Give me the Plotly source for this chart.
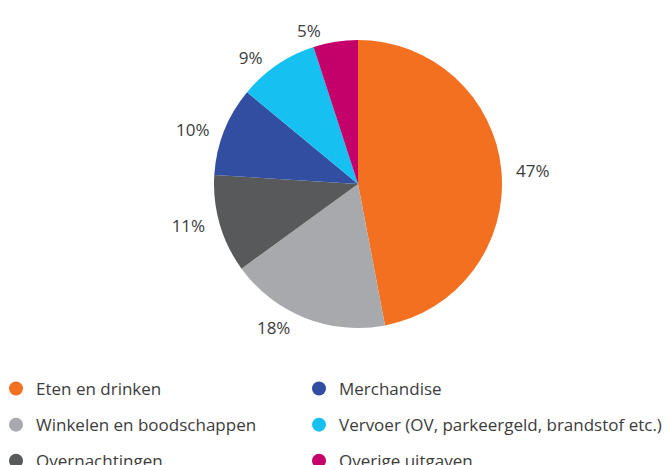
import plotly.graph_objects as go

categories = ["Eten en drinken", "Winkelen en boodschappen", "Overnachtingen",
              "Merchandise", "Vervoer (OV, parkeergeld, brandstof etc.)", "Overige uitgaven"]
values = [47, 18, 11, 10, 9, 5]
colors = ["#F37021", "#A7A9AC", "#58595B", "#324EA0", "#16C1F1", "#C4006A"]
legend_column = ["legend", "legend", "legend", "legend2", "legend2", "legend2"]

W, H = 670, 465
cx, cy, r = 358, 184, 144
pad = "\u00a0\u00a0"

fig = go.Figure()
fig.add_trace(go.Pie(
    labels=categories, values=values, sort=False, direction="clockwise", rotation=0,
    marker=dict(colors=colors, line=dict(width=0)),
    texttemplate=pad + "%{value}%" + pad, textposition="outside",
    textfont=dict(family="Open Sans", size=17, color="#3c3c3c"),
    showlegend=False, hoverinfo="label+value",
    domain=dict(x=[(cx - r) / W, (cx + r) / W], y=[1 - (cy + r) / H, 1 - (cy - r) / H]),
))

for i, (name, col) in enumerate(zip(categories, colors)):
    fig.add_trace(go.Scatter(
        x=[None], y=[None], mode="markers", name=name,
        marker=dict(symbol="circle", size=14, color=col),
        legend=legend_column[i], legendgroup=f"g{i}", showlegend=True,
    ))

legend_common = dict(
    orientation="v", yanchor="top", y=1 - 371 / H, tracegroupgap=11,
    font=dict(family="Open Sans", size=17, color="#3c3c3c"),
    bgcolor="rgba(0,0,0,0)", itemwidth=30,
)
fig.update_layout(
    width=W, height=H,
    margin=dict(l=0, r=0, t=0, b=0, autoexpand=False),
    paper_bgcolor="white", plot_bgcolor="white",
    xaxis=dict(visible=False), yaxis=dict(visible=False),
    legend=dict(x=-4 / W, xanchor="left", **legend_common),
    legend2=dict(x=299 / W, xanchor="left", **legend_common),
)
fig.write_html("out.html", config={"displayModeBar": False},
               post_script="document.body.style.margin='0';")
